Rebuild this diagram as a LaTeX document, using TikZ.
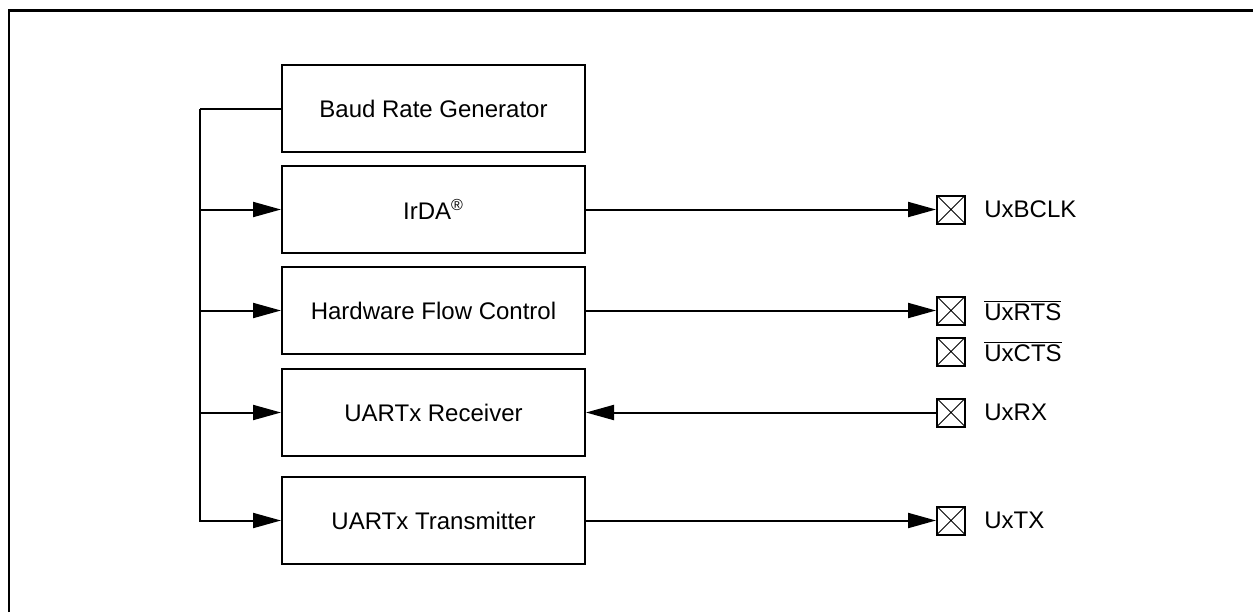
\documentclass[tikz,border=0pt]{standalone}
\usepackage{fontspec}
\setmainfont{Liberation Sans}
\usetikzlibrary{arrows.meta,positioning}
\tikzset{
block/.style={draw,line width=1pt,minimum width=151.5pt,minimum height=43.5pt,align=center,font=\fontsize{12}{14}\selectfont},
pin/.style={draw,line width=1pt,minimum size=14pt,inner sep=0pt,path picture={\draw[line width=.5pt](path picture bounding box.south west)--(path picture bounding box.north east)(path picture bounding box.north west)--(path picture bounding box.south east);}},
pinlabel/.style={inner sep=0pt,font=\fontsize{12}{14}\selectfont},
flow/.style={-{Triangle[length=14pt,width=7.5pt]},line width=1pt},
wire/.style={line width=1pt}
}
\begin{document}
\begin{tikzpicture}[x=0.5pt,y=-0.5pt,node distance=6pt]
\useasboundingbox (0,0) rectangle (1253,612);
\draw[line width=1.25pt](9,612)|-(1253,10.5);
\node[block](baud) at (433.5,108.5){Baud Rate Generator};
\node[block,below=of baud](irda){IrDA\textsuperscript{\textregistered}};
\node[block,below=of irda](hfc){Hardware Flow Control};
\node[block,below=6.5pt of hfc](rx){UARTx Receiver};
\node[block,below=9.5pt of rx](tx){UARTx Transmitter};
% pins
\node[pin,right=175pt of irda](bclk){};
\node[pin,right=175pt of hfc](rts){};
\node[pin,below=5.5pt of rts](cts){};
\node[pin,right=175pt of rx](uxrx){};
\node[pin,right=175pt of tx](uxtx){};
\node[pinlabel,right=9pt of bclk](bclklbl){UxBCLK};
\node[pinlabel,right=9pt of rts](rtslbl){$\overline{\mbox{UxRTS}}$};
\node[pinlabel,right=9pt of cts](ctslbl){$\overline{\mbox{UxCTS}}$};
\node[pinlabel,right=9pt of uxrx](rxlbl){UxRX};
\node[pinlabel,right=9pt of uxtx](txlbl){UxTX};
% clock bus
\coordinate(bus) at (200,108.5);
\draw[wire](baud.west)--(bus);\draw[flow](bus)|-(tx.west);
\draw[flow](bus|-irda.west)--(irda.west);\draw[flow](bus|-hfc.west)--(hfc.west);\draw[flow](bus|-rx.west)--(rx.west);
% signals
\draw[flow](irda.east)--(bclk.west);\draw[flow](hfc.east)--(rts.west);
\draw[flow](uxrx.west)--(rx.east);\draw[flow](tx.east)--(uxtx.west);
\end{tikzpicture}
\end{document}
